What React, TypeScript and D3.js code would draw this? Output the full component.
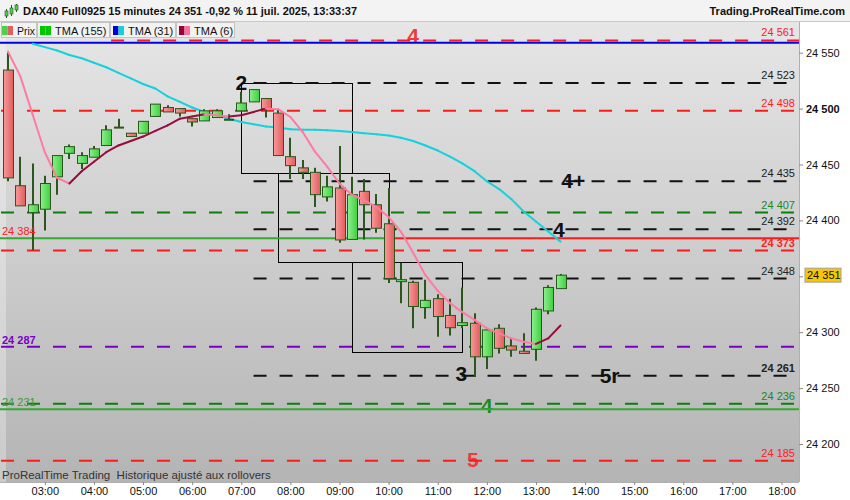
import { useEffect, useRef } from "react";
import * as d3 from "d3";

const W = 850;
const H = 500;

// 15-minute candles, first one at 02:15
const START = Date.UTC(2025, 6, 11, 2, 15);
const STEP = 15 * 60 * 1000;

const opens = [
  24534.5, 24431, 24407, 24410, 24439, 24460, 24451, 24456.5, 24467, 24483,
  24478, 24478, 24493, 24501, 24500, 24491, 24489, 24492, 24490, 24498,
  24506, 24509, 24496, 24457, 24447, 24443, 24421, 24429, 24383, 24426,
  24414, 24397, 24346, 24344.6, 24322, 24330, 24315, 24306, 24308, 24278,
  24303.5, 24287.7, 24283, 24284.7, 24319, 24339,
];
const highs = [
  24550, 24457, 24451, 24440, 24458, 24468, 24461, 24466.5, 24485, 24491,
  24478, 24488.6, 24504, 24503, 24500, 24491, 24499.5, 24499.5, 24495, 24515,
  24517, 24509, 24499, 24474, 24454, 24447, 24440, 24466.6, 24439, 24437,
  24423.6, 24429, 24362, 24346, 24347, 24334, 24330, 24340, 24317, 24303.5,
  24307, 24295, 24299, 24322, 24342, 24352,
];
const lows = [
  24435, 24413, 24373.5, 24391, 24423, 24455, 24446, 24456.5, 24467, 24483,
  24475, 24478, 24493, 24497, 24493, 24484, 24489, 24492, 24490, 24498,
  24506, 24492, 24458, 24437, 24437, 24412, 24417, 24380, 24383, 24383,
  24389, 24344, 24326, 24303.5, 24312, 24296, 24297, 24303.5, 24260, 24267,
  24281, 24278, 24281, 24274.5, 24316, 24339,
];
const closes = [
  24438, 24413, 24414, 24433, 24458, 24466, 24458, 24464, 24481, 24483,
  24475, 24488.6, 24504, 24497, 24496, 24488, 24498, 24498, 24490, 24505,
  24517, 24500, 24458, 24449, 24443, 24423, 24430, 24382.5, 24423, 24414,
  24393, 24348, 24347, 24323, 24328.5, 24314, 24304, 24308.5, 24278, 24302,
  24285.6, 24284, 24281, 24320.5, 24340, 24351,
];

// TMA (31): first two values hidden behind the legend
const tma31 = [
  null, null, 24558, 24555, 24552, 24548, 24545, 24541, 24537, 24532,
  24527, 24522, 24518, 24511, 24506, 24501, 24497, 24494, 24491, 24488,
  24486, 24484, 24483, 24481.5, 24481, 24481, 24480.6, 24480, 24479, 24478,
  24477, 24476, 24474, 24471, 24467, 24462.5, 24457, 24451, 24444, 24435,
  24428, 24419, 24408, 24399, 24390, 24381,
];
const tma6 = [
  24551, 24529, 24495, 24461, 24438, 24433, 24444, 24452.5, 24461, 24467,
  24471, 24475, 24480, 24485, 24491, 24493, 24495, 24494, 24493, 24494,
  24497, 24500, 24499.5, 24492.5, 24479, 24461.5, 24448, 24433, 24423, 24418,
  24412, 24403, 24390, 24371, 24351, 24337, 24326, 24318, 24311, 24303.5,
  24299, 24294.5, 24291.5, 24289.5, 24294.5, 24306,
];

// horizontal dashed levels, their kind and the time they start from
const dashedLevels = [24561, 24523, 24498, 24435, 24407, 24392, 24373, 24348, 24287, 24261, 24236, 24185];
const dashedKinds = ["red", "black", "red", "black", "green", "black", "red", "black", "purple", "black", "green", "red"];
const dashedFrom = ["04:21", "07:15", "", "07:15", "", "07:15", "", "07:15", "", "07:15", "", ""];
const rightLabels = ["24 561", "24 523", "24 498", "24 435", "24 407", "24 392", "24 373", "24 348", "", "24 261", "24 236", "24 185"];
const boldLabels = ["24 373", "24 261"];

const leftLabels = ["24 384", "24 287", "24 231"];
const leftLabelPrices = [24384, 24287, 24231];
const leftLabelKinds = ["red", "purple", "lgreen"];

// solid lines: price, kind, from, to
const solidPrices = [24559, 24384, 24384, 24231];
const solidKinds = ["blue", "lgreen", "red", "lgreen"];
const solidFrom = ["", "", "10:00", ""];
const solidTo = ["", "10:00", "", ""];

// boxes: time range and price range
const boxFrom = ["07:00", "07:45", "09:15"];
const boxTo = ["09:15", "10:00", "11:30"];
const boxTop = [24523, 24442, 24362.5];
const boxBottom = [24442, 24362.5, 24282];

// annotations
const noteTexts = ["2", "4+", "4", "3", "5r", "4", "4", "5"];
const noteTimes = ["07:00", "13:31", "13:28", "11:29", "14:30", "10:30", "12:00", "11:43"];
const notePrices = [24517, 24429, 24385, 24256.6, 24254.6, 24558.7, 24227.7, 24179.4];
const noteKinds = ["black", "black", "black", "black", "black", "red", "green", "red"];
const noteAnchors = ["middle", "start", "middle", "middle", "middle", "middle", "middle", "middle"];

const yTicks = [24200, 24250, 24300, 24350, 24400, 24450, 24500, 24550];
const xTickFrom = "03:00";
const xTickTo = "18:00";

const legendNames = ["Prix", "TMA (155)", "TMA (31)", "TMA (6)"];

const COLORS: Record<string, string> = {
  red: "#ff1a1a",
  black: "#111111",
  green: "#0a7f0a",
  purple: "#7a00c8",
  blue: "#0000e6",
  lgreen: "#33aa33",
};
const LABEL_COLORS: Record<string, string> = {
  red: "#ff2020",
  black: "#222222",
  green: "#1a8a1a",
  purple: "#7a00c8",
  lgreen: "#3a9a3a",
};
const NOTE_COLORS: Record<string, string> = {
  black: "#111111",
  red: "#ee3a3a",
  green: "#1c8a1c",
};

const FONT = "'Liberation Sans', Arial, sans-serif";

function at(hm: string): number {
  const [h, m] = hm.split(":").map(Number);
  return Date.UTC(2025, 6, 11, h, m);
}

function fmt(v: number): string {
  return d3.format(",")(v).replace(",", " ");
}

export default function App() {
  const svgRef = useRef<SVGSVGElement>(null);

  useEffect(() => {
    const svgEl = svgRef.current;
    if (!svgEl) return;
    const svg = d3.select(svgEl);
    svg.selectAll("*").remove();

    const plot = { left: 0, right: 799, top: 22, bottom: 482 };

    const x = d3
      .scaleUtc()
      .domain([START, START + 45 * STEP])
      .range([8, 560.5]);
    const y = d3.scaleLinear().domain([24200, 24550]).range([444, 52.7]);
    const xt = (i: number) => x(START + i * STEP);

    const defs = svg.append("defs");
    const bg = defs
      .append("linearGradient")
      .attr("id", "plot-bg")
      .attr("x1", "0")
      .attr("y1", "0")
      .attr("x2", "0")
      .attr("y2", "1");
    bg.append("stop").attr("offset", "0%").attr("stop-color", "#e6e6e6");
    bg.append("stop").attr("offset", "100%").attr("stop-color", "#b4b4b4");

    const redBody = defs
      .append("linearGradient")
      .attr("id", "red-body")
      .attr("x1", "0")
      .attr("x2", "1");
    redBody.append("stop").attr("offset", "0%").attr("stop-color", "#f79a9a");
    redBody.append("stop").attr("offset", "100%").attr("stop-color", "#e25c5c");

    const greenBody = defs
      .append("linearGradient")
      .attr("id", "green-body")
      .attr("x1", "0")
      .attr("x2", "1");
    greenBody.append("stop").attr("offset", "0%").attr("stop-color", "#8cf08c");
    greenBody.append("stop").attr("offset", "100%").attr("stop-color", "#3fcf3f");

    defs
      .append("clipPath")
      .attr("id", "plot-clip")
      .append("rect")
      .attr("x", plot.left)
      .attr("y", plot.top)
      .attr("width", plot.right - plot.left)
      .attr("height", plot.bottom - plot.top);

    // backgrounds
    svg.append("rect").attr("width", W).attr("height", H).attr("fill", "#ffffff");
    svg
      .append("rect")
      .attr("x", plot.left)
      .attr("y", plot.top)
      .attr("width", plot.right - plot.left)
      .attr("height", plot.bottom - plot.top)
      .attr("fill", "url(#plot-bg)");
    svg
      .append("rect")
      .attr("x", 0)
      .attr("y", plot.top)
      .attr("width", 6)
      .attr("height", plot.bottom - plot.top)
      .attr("fill", "#ffffff")
      .attr("opacity", 0.3);

    const g = svg.append("g").attr("clip-path", "url(#plot-clip)");

    // annotations (under the lines)
    g.selectAll(".note")
      .data(noteTexts)
      .enter()
      .append("text")
      .attr("x", (_, i) => x(at(noteTimes[i])))
      .attr("y", (_, i) => y(notePrices[i]))
      .attr("text-anchor", (_, i) => noteAnchors[i])
      .attr("font-family", FONT)
      .attr("font-weight", "bold")
      .attr("font-size", 21)
      .attr("fill", (_, i) => NOTE_COLORS[noteKinds[i]])
      .text((d) => d);

    // boxes
    g.selectAll(".box")
      .data(boxFrom)
      .enter()
      .append("rect")
      .attr("x", (d) => Math.round(x(at(d))) + 0.5)
      .attr("y", (_, i) => Math.round(y(boxTop[i])) + 0.5)
      .attr("width", (d, i) => Math.round(x(at(boxTo[i]))) - Math.round(x(at(d))))
      .attr("height", (_, i) => Math.round(y(boxBottom[i])) - Math.round(y(boxTop[i])))
      .attr("fill", "none")
      .attr("stroke", "#000")
      .attr("stroke-width", 1);

    // dashed levels
    g.selectAll(".dash")
      .data(dashedLevels)
      .enter()
      .append("line")
      .attr("x1", (_, i) => (dashedFrom[i] ? x(at(dashedFrom[i])) : plot.left + 1))
      .attr("x2", plot.right)
      .attr("y1", (d) => y(d))
      .attr("y2", (d) => y(d))
      .attr("stroke", (_, i) => COLORS[dashedKinds[i]])
      .attr("stroke-width", 2)
      .attr("stroke-dasharray", "13,13");

    // solid levels
    g.selectAll(".solid")
      .data(solidPrices)
      .enter()
      .append("line")
      .attr("x1", (_, i) => (solidFrom[i] ? x(at(solidFrom[i])) : plot.left))
      .attr("x2", (_, i) => (solidTo[i] ? x(at(solidTo[i])) : plot.right))
      .attr("y1", (d) => y(d))
      .attr("y2", (d) => y(d))
      .attr("stroke", (_, i) => COLORS[solidKinds[i]])
      .attr("stroke-width", 2);

    // level labels
    const labelled = d3.range(dashedLevels.length).filter((i) => rightLabels[i] !== "");
    svg
      .selectAll(".rlabel")
      .data(labelled)
      .enter()
      .append("text")
      .attr("x", 795)
      .attr("y", (i) => y(dashedLevels[i]) - 4)
      .attr("text-anchor", "end")
      .attr("font-family", FONT)
      .attr("font-size", 11)
      .attr("font-weight", (i) => (boldLabels.includes(rightLabels[i]) ? "bold" : "normal"))
      .attr("fill", (i) => LABEL_COLORS[dashedKinds[i]])
      .text((i) => rightLabels[i]);

    svg
      .selectAll(".llabel")
      .data(leftLabels)
      .enter()
      .append("text")
      .attr("x", 2)
      .attr("y", (_, i) => y(leftLabelPrices[i]) - 3)
      .attr("font-family", FONT)
      .attr("font-size", 11)
      .attr("font-weight", (_, i) => (leftLabelKinds[i] === "purple" ? "bold" : "normal"))
      .attr("fill", (_, i) => LABEL_COLORS[leftLabelKinds[i]])
      .text((d) => d);

    // moving averages, coloured by direction
    const seg = d3.line<[number, number]>();
    const drawMA = (vals: (number | null)[], up: string, down: string) => {
      for (let i = 1; i < vals.length; i++) {
        const a = vals[i - 1];
        const b = vals[i];
        if (a == null || b == null) continue;
        g.append("path")
          .attr("d", seg([[xt(i - 1), y(a)], [xt(i), y(b)]]))
          .attr("fill", "none")
          .attr("stroke", b > a ? up : down)
          .attr("stroke-width", 2)
          .attr("stroke-linecap", "round");
      }
    };
    drawMA(tma31, "#1030d0", "#14d2dc");

    // candles
    const bodyW = 10;
    const candles = g.append("g");
    opens.forEach((o, i) => {
      const c = closes[i];
      const cx = Math.round(xt(i));
      const up = c >= o;
      candles
        .append("line")
        .attr("x1", cx)
        .attr("x2", cx)
        .attr("y1", y(highs[i]))
        .attr("y2", y(lows[i]))
        .attr("stroke", "#2c571c")
        .attr("stroke-width", 2);
      if (Math.abs(c - o) < 0.6) {
        candles
          .append("line")
          .attr("x1", cx - bodyW / 2)
          .attr("x2", cx + bodyW / 2)
          .attr("y1", y(o))
          .attr("y2", y(o))
          .attr("stroke", "#2c571c")
          .attr("stroke-width", 2);
      } else {
        const top = y(Math.max(o, c));
        const h = Math.max(2, y(Math.min(o, c)) - top);
        candles
          .append("rect")
          .attr("x", cx - bodyW / 2 + 0.5)
          .attr("y", top)
          .attr("width", bodyW)
          .attr("height", h)
          .attr("fill", up ? "url(#green-body)" : "url(#red-body)")
          .attr("stroke", "#2c571c")
          .attr("stroke-width", 1);
      }
    });

    drawMA(tma6, "#980c3c", "#ff7aa2");

    // right axis
    svg
      .append("line")
      .attr("x1", plot.right + 0.5)
      .attr("x2", plot.right + 0.5)
      .attr("y1", plot.top)
      .attr("y2", plot.bottom)
      .attr("stroke", "#b0b0b0");
    const last = closes[closes.length - 1];
    const yAxis = svg
      .append("g")
      .attr("transform", `translate(${plot.right},0)`)
      .call(
        d3
          .axisRight(y)
          .tickValues(yTicks)
          .tickSize(4)
          .tickPadding(3)
          .tickFormat((d) => (Math.abs(Number(d) - last) < 5 ? "" : fmt(Number(d))))
      );
    yAxis.select(".domain").remove();
    yAxis.selectAll(".tick line").attr("stroke", "#888");
    yAxis
      .selectAll("text")
      .attr("fill", "#111")
      .attr("font-size", 11)
      .attr("font-family", FONT)
      .attr("font-weight", (d) => (Number(d) === 24500 ? "bold" : "normal"));

    // current price tag
    const tag = svg.append("g").attr("transform", `translate(805,${y(last)})`);
    tag
      .append("rect")
      .attr("x", 0)
      .attr("y", -7)
      .attr("width", 36)
      .attr("height", 14)
      .attr("fill", "#f7c600")
      .attr("stroke", "#a0a0a0");
    tag
      .append("text")
      .attr("x", 2)
      .attr("y", 4)
      .attr("font-family", FONT)
      .attr("font-size", 11)
      .attr("fill", "#111")
      .text(fmt(last));

    // bottom axis
    svg
      .append("line")
      .attr("x1", 0)
      .attr("x2", plot.right)
      .attr("y1", plot.bottom + 0.5)
      .attr("y2", plot.bottom + 0.5)
      .attr("stroke", "#b0b0b0");
    const hours = d3.utcHour.range(new Date(at(xTickFrom)), new Date(at(xTickTo) + 1));
    const xAxis = svg
      .append("g")
      .attr("transform", `translate(0,${plot.bottom})`)
      .call(
        d3
          .axisBottom(x)
          .tickValues(hours)
          .tickSize(3)
          .tickPadding(2)
          .tickFormat((d) => d3.utcFormat("%H:%M")(d as Date))
      );
    xAxis.select(".domain").remove();
    xAxis.selectAll(".tick line").attr("stroke", "#888");
    xAxis.selectAll("text").attr("fill", "#111").attr("font-size", 11).attr("font-family", FONT);

    svg
      .append("text")
      .attr("x", 2)
      .attr("y", 479)
      .attr("font-family", FONT)
      .attr("font-size", 11.5)
      .attr("fill", "#333")
      .style("white-space", "pre")
      .text("ProRealTime Trading  Historique ajusté aux rollovers");

    // title bar
    svg.append("rect").attr("width", W).attr("height", 21).attr("fill", "#f3f3f3");
    svg
      .append("line")
      .attr("x1", 0)
      .attr("x2", W)
      .attr("y1", 21.5)
      .attr("y2", 21.5)
      .attr("stroke", "#c8c8c8");
    const icon = svg.append("g").attr("transform", "translate(5,4)");
    [
      [0, 7, 5, 5],
      [5, 4, 1, 6],
      [10, 1, 0, 5],
    ].forEach(([ix, by, wy, bh]) => {
      icon
        .append("line")
        .attr("x1", ix + 1.5)
        .attr("x2", ix + 1.5)
        .attr("y1", wy)
        .attr("y2", by + bh + 2)
        .attr("stroke", "#2c571c");
      icon
        .append("rect")
        .attr("x", ix)
        .attr("y", by)
        .attr("width", 3)
        .attr("height", bh)
        .attr("fill", "#4fcf4f")
        .attr("stroke", "#2c571c")
        .attr("stroke-width", 0.6);
    });
    svg
      .append("text")
      .attr("x", 23)
      .attr("y", 15)
      .attr("font-family", FONT)
      .attr("font-weight", "bold")
      .attr("font-size", 11.5)
      .attr("textLength", 334)
      .attr("lengthAdjust", "spacingAndGlyphs")
      .attr("fill", "#111")
      .text("DAX40 Full0925 15 minutes 24 351 -0,92 % 11 juil. 2025, 13:33:37");
    svg
      .append("text")
      .attr("x", 845)
      .attr("y", 15)
      .attr("text-anchor", "end")
      .attr("font-family", FONT)
      .attr("font-weight", "bold")
      .attr("font-size", 11)
      .attr("fill", "#111")
      .text("Trading.ProRealTime.com");

    // legend row
    const legendA = ["#4fcf4f", "#00c800", "#0000d0", "#990033"];
    const legendB = ["#e06060", "#00c800", "#14d2dc", "#ff6f9c"];
    const legendX = [1, 37, 110, 176, 235];
    legendNames.forEach((name, i) => {
      const lx = legendX[i];
      const lw = legendX[i + 1] - lx;
      const lg = svg.append("g").attr("transform", `translate(${lx},22)`);
      lg.append("rect")
        .attr("x", 0.5)
        .attr("y", 0.5)
        .attr("width", lw - 1)
        .attr("height", 15)
        .attr("fill", "#f2f2f2")
        .attr("stroke", "#c4c4c4");
      const sx = i === 0 ? 1 : 3;
      lg.append("rect").attr("x", sx).attr("y", 4).attr("width", 5.5).attr("height", 9).attr("fill", legendA[i]);
      lg.append("rect").attr("x", sx + 5.5).attr("y", 4).attr("width", 5.5).attr("height", 9).attr("fill", legendB[i]);
      const t = lg
        .append("text")
        .attr("x", i === 0 ? 16 : 18)
        .attr("y", 12.5)
        .attr("font-family", FONT)
        .attr("font-size", 11)
        .attr("fill", "#111")
        .text(name);
      if (i === 0) t.attr("textLength", 18).attr("lengthAdjust", "spacingAndGlyphs");
    });
  }, []);

  return (
    <svg
      ref={svgRef}
      width={W}
      height={H}
      style={{ position: "absolute", left: 0, top: 0, display: "block" }}
    />
  );
}
